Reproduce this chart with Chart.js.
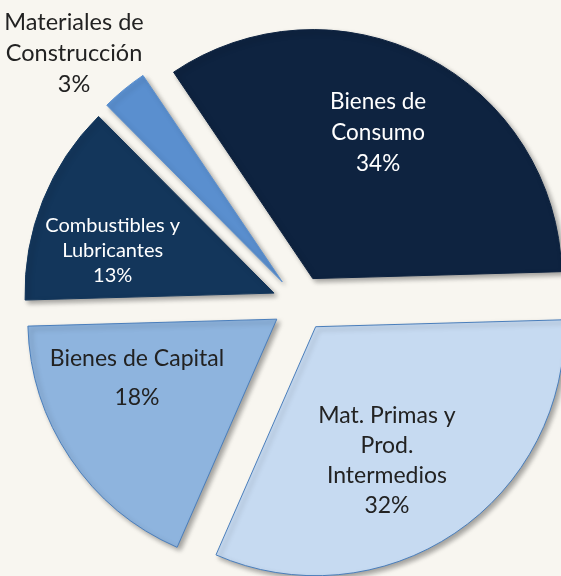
<!DOCTYPE html>
<html>
<head>
<meta charset="utf-8">
<script src="https://cdn.jsdelivr.net/npm/chart.js@4.4.1/dist/chart.umd.min.js"></script>
<style>
    html, body { margin: 0; padding: 0; background: #f8f6f0; }
    #wrap { width: 561px; height: 576px; }
</style>
</head>
<body>
<div id="wrap"><canvas id="pieChart"></canvas></div>
<script>
// Datos del grafico
var categorias = [
    ['Bienes de', 'Consumo'],
    ['Mat. Primas y', 'Prod.', 'Intermedios'],
    ['Bienes de Capital'],
    ['Combustibles y', 'Lubricantes'],
    ['Materiales de', 'Construcción']
];
var porcentajes = [34, 32, 18, 13, 3];

var colores = ['#0e2340', '#c6daf1', '#8eb4de', '#13365b', '#5a8fcf'];
var bordes = ['#0e2340', '#4a7ebb', '#4a7ebb', '#13365b', '#5a8fcf'];

var EXPLODE = 28;

// posicion y estilo de cada etiqueta (fraccion del radio, giro en grados)
var estiloEtiquetas = [
    { r: 0.64, da: -3, size: 22.5, lh: 31, color: '#ffffff' },
    { r: 0.61, da: 6, size: 23, lh: 30, color: '#222222' },
    { r: 0.61, da: 11, size: 23, lh: 39, color: '#222222' },
    { r: 0.67, da: -7, size: 20, lh: 25, color: '#ffffff' },
    { r: 1.24, da: -3, size: 23.5, lh: 31, color: '#222222' }
];

// separa las porciones desplazando el centro de cada arco
var explodePlugin = {
    id: 'explode',
    beforeDatasetDraw: function (chart, args) {
        var ctx = chart.ctx;
        ctx.save();
        ctx.shadowColor = 'rgba(0, 0, 0, 0.35)';
        ctx.shadowOffsetX = 3;
        ctx.shadowOffsetY = 3;
        ctx.shadowBlur = 5;
        args.meta.data.forEach(function (arc) {
            var mid = (arc.startAngle + arc.endAngle) / 2;
            arc.x += EXPLODE * Math.cos(mid);
            arc.y += EXPLODE * Math.sin(mid);
        });
    },
    afterDatasetDraw: function (chart, args) {
        args.meta.data.forEach(function (arc) {
            var mid = (arc.startAngle + arc.endAngle) / 2;
            arc.x -= EXPLODE * Math.cos(mid);
            arc.y -= EXPLODE * Math.sin(mid);
        });
        chart.ctx.restore();
    }
};

var labelPlugin = {
    id: 'sliceLabels',
    afterDatasetsDraw: function (chart) {
        var ctx = chart.ctx;
        var meta = chart.getDatasetMeta(0);
        var values = chart.data.datasets[0].data;
        ctx.save();
        ctx.textAlign = 'center';
        ctx.textBaseline = 'middle';
        meta.data.forEach(function (arc, i) {
            var st = estiloEtiquetas[i];
            var mid = (arc.startAngle + arc.endAngle) / 2;
            var cx = arc.x + EXPLODE * Math.cos(mid);
            var cy = arc.y + EXPLODE * Math.sin(mid);
            var ang = mid + st.da * Math.PI / 180;
            var px = cx + Math.cos(ang) * arc.outerRadius * st.r;
            var py = cy + Math.sin(ang) * arc.outerRadius * st.r;
            var lines = chart.data.labels[i].concat([values[i] + '%']);
            ctx.font = st.size + 'px Lato';
            ctx.fillStyle = st.color;
            lines.forEach(function (line, k) {
                ctx.fillText(line, px, py + (k - (lines.length - 1) / 2) * st.lh);
            });
        });
        ctx.restore();
    }
};

var ctxPie = document.getElementById('pieChart').getContext('2d');
var pieChart = new Chart(ctxPie, {
    type: 'pie',
    data: {
        labels: categorias,
        datasets: [{
            data: porcentajes,
            backgroundColor: colores,
            borderColor: bordes,
            borderWidth: 1,
            radius: 249,
            clip: false
        }]
    },
    options: {
        responsive: true,
        maintainAspectRatio: false,
        animation: false,
        rotation: -34,
        layout: {
            padding: { left: 39, top: 31, right: 0, bottom: 0 }
        },
        plugins: {
            legend: { display: false },
            tooltip: { enabled: false }
        }
    },
    plugins: [explodePlugin, labelPlugin]
});
</script>
</body>
</html>
